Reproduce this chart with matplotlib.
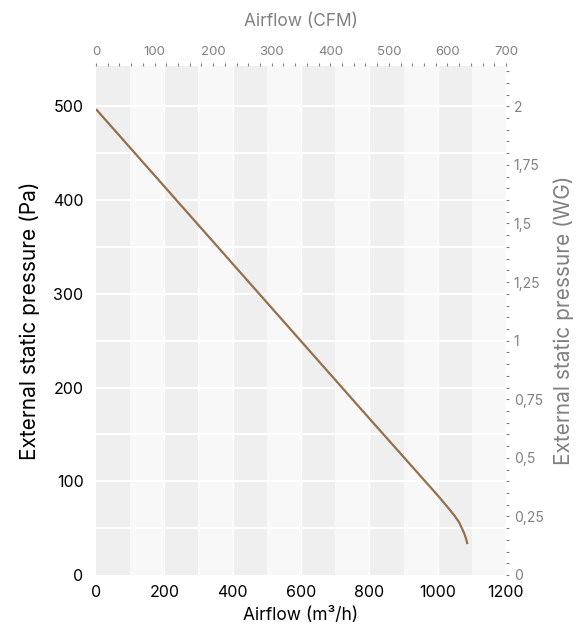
import matplotlib
matplotlib.use("Agg")
import matplotlib.pyplot as plt
from matplotlib.ticker import MultipleLocator, FuncFormatter

plt.rcParams['font.family'] = ['Inter', 'DejaVu Sans']

# ---- data ----
airflow_m3h = [0, 200, 400, 600, 800, 1000, 1030, 1050, 1063, 1072, 1078, 1082, 1085, 1087]
pressure_pa = [497, 414.5, 332, 249.5, 167, 85, 72, 63, 56, 49, 44, 40, 36, 33]

x_ticks = [0, 200, 400, 600, 800, 1000, 1200]
y_ticks = [0, 100, 200, 300, 400, 500]
cfm_ticks = [0, 100, 200, 300, 400, 500, 600, 700]
wg_ticks = [0, 0.25, 0.5, 0.75, 1, 1.25, 1.5, 1.75, 2]

x_max = 1200
y_max = 543
pa_per_wg = 250
cfm_max = 700
band_width = 100

line_color = '#94704f'
gray = '#808080'

fig = plt.figure(figsize=(5.76, 6.3), dpi=100)
ax = fig.add_axes([96/576, 55/630, 410/576, 509/630])

ax.set_xlim(0, x_max)
ax.set_ylim(0, y_max)

# alternating vertical bands
edges = list(range(0, x_max, band_width))
for i, e in enumerate(edges):
    ax.axvspan(e, e + band_width, color='#efefef' if i % 2 == 0 else '#f8f8f8', lw=0, zorder=0)

# white grid lines
for yv in range(50, y_max, 50):
    ax.axhline(yv, color='white', lw=1.6, zorder=1)
for xv in range(200, x_max, 200):
    ax.axvline(xv, color='white', lw=0.9, zorder=1)

ax.plot(airflow_m3h, pressure_pa, color=line_color, lw=1.6, zorder=3, solid_capstyle='butt')

for s in ax.spines.values():
    s.set_visible(False)
ax.set_xticks(x_ticks)
ax.set_yticks(y_ticks)
ax.tick_params(axis='both', length=0, labelsize=11.5, colors='black')
ax.tick_params(axis='x', pad=7)
ax.tick_params(axis='y', pad=9)
ax.set_xlabel('Airflow (m³/h)', fontsize=12.5, labelpad=5)
ax.set_ylabel('External static pressure (Pa)', fontsize=15, labelpad=9)

# right axis (WG)
axr = ax.twinx()
axr.set_ylim(0, y_max / pa_per_wg)
for s in axr.spines.values():
    s.set_visible(False)
axr.set_yticks(wg_ticks)
axr.yaxis.set_minor_locator(MultipleLocator(0.05))
axr.yaxis.set_major_formatter(FuncFormatter(lambda v, p: ('%g' % v).replace('.', ',')))
axr.tick_params(axis='y', which='both', length=2.5, width=0.8, colors=gray, labelsize=10, pad=3)
axr.set_ylabel('External static pressure (WG)', fontsize=15, color=gray, labelpad=7)

# top axis (CFM)
axt = ax.twiny()
axt.set_xlim(0, cfm_max)
for s in axt.spines.values():
    s.set_visible(False)
axt.set_xticks(cfm_ticks)
axt.xaxis.set_minor_locator(MultipleLocator(20))
axt.tick_params(axis='x', which='both', length=2.5, width=0.8, colors=gray, labelsize=9.5, pad=3)
axt.set_xlabel('Airflow (CFM)', fontsize=12.5, color=gray, labelpad=15)

fig.savefig('out.png', dpi=100)
